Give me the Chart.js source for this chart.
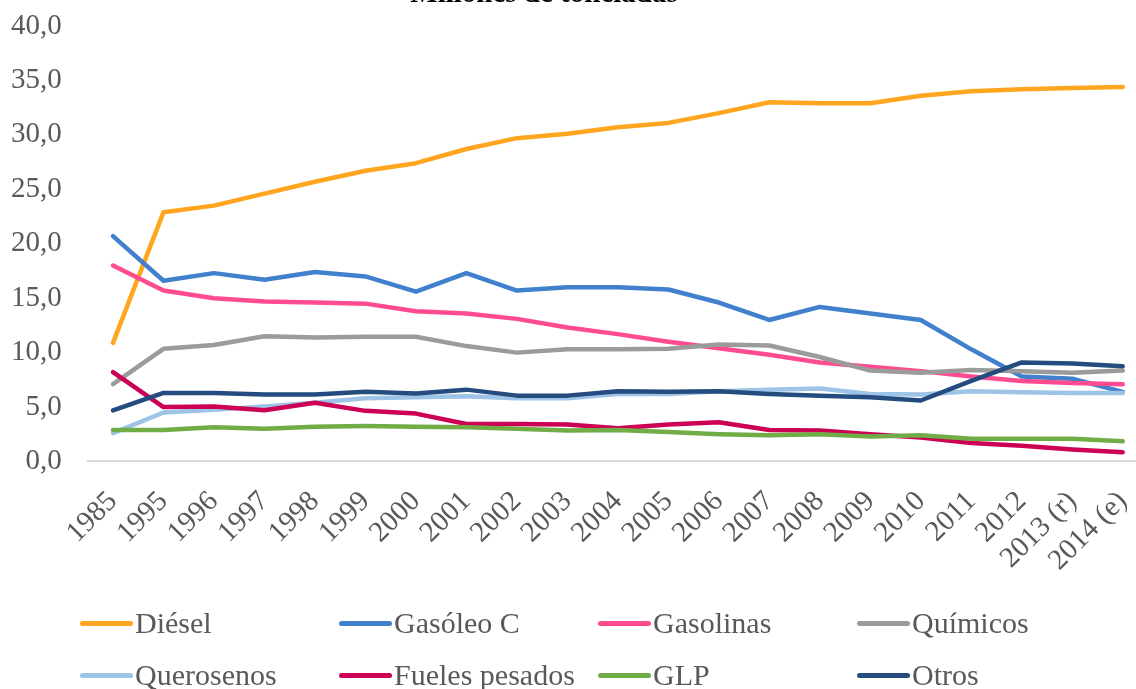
<!DOCTYPE html>
<html>
<head>
<meta charset="utf-8">
<script src="https://cdn.jsdelivr.net/npm/chart.js@4.4.1/dist/chart.umd.min.js"></script>
<style>
  html, body { margin: 0; padding: 0; background: #fff; overflow: hidden; }
  #wrap { position: absolute; left: 0; top: 0; width: 1148px; height: 689px; }
  #legend {
    position: absolute; left: 80px; top: 597px;
    display: grid; grid-template-columns: repeat(4, 259px);
    font: 30px "Liberation Serif", serif; color: #595959;
  }
  #legend .item { display: flex; align-items: center; height: 52px; white-space: nowrap; }
  #legend .swatch { width: 53px; height: 5px; border-radius: 3px; margin-right: 2px; }
</style>
</head>
<body>
<div id="wrap"><canvas id="myChart"></canvas></div>
<div id="legend"></div>
<script>
// categorias
var years = ['1985', '1995', '1996', '1997', '1998', '1999', '2000', '2001', '2002', '2003',
    '2004', '2005', '2006', '2007', '2008', '2009', '2010', '2011', '2012', '2013 (r)', '2014 (e)'];

// millones de toneladas
var diesel = [10.9, 22.9, 23.5, 24.6, 25.7, 26.7, 27.4, 28.7, 29.7, 30.1, 30.7, 31.1, 32.0, 33.0, 32.9, 32.9, 33.6, 34.0, 34.2, 34.3, 34.4];
var gasoleoC = [20.7, 16.6, 17.3, 16.7, 17.4, 17.0, 15.6, 17.3, 15.7, 16.0, 16.0, 15.8, 14.6, 13.0, 14.2, 13.6, 13.0, 10.3, 7.8, 7.6, 6.4];
var gasolinas = [18.0, 15.7, 15.0, 14.7, 14.6, 14.5, 13.8, 13.6, 13.1, 12.3, 11.7, 11.0, 10.4, 9.8, 9.1, 8.7, 8.3, 7.8, 7.4, 7.2, 7.1];
var quimicos = [7.1, 10.35, 10.7, 11.5, 11.4, 11.45, 11.45, 10.6, 10.0, 10.3, 10.3, 10.35, 10.75, 10.65, 9.6, 8.35, 8.15, 8.4, 8.3, 8.15, 8.35];
var querosenos = [2.6, 4.5, 4.75, 5.05, 5.4, 5.8, 5.9, 6.0, 5.8, 5.8, 6.2, 6.2, 6.45, 6.6, 6.7, 6.2, 6.15, 6.45, 6.35, 6.3, 6.3];
var fuelesPesados = [8.2, 5.0, 5.05, 4.7, 5.4, 4.65, 4.4, 3.45, 3.45, 3.4, 3.05, 3.4, 3.6, 2.9, 2.85, 2.5, 2.2, 1.7, 1.45, 1.1, 0.85];
var glp = [2.9, 2.9, 3.15, 3.0, 3.2, 3.25, 3.2, 3.15, 3.0, 2.85, 2.9, 2.7, 2.5, 2.4, 2.5, 2.3, 2.4, 2.1, 2.1, 2.1, 1.85];
var otros = [4.7, 6.3, 6.3, 6.15, 6.15, 6.4, 6.25, 6.6, 6.05, 6.05, 6.45, 6.4, 6.45, 6.2, 6.05, 5.9, 5.6, 7.4, 9.1, 9.0, 8.75];

var yTicks = { min: 0, max: 40, step: 5 };
var titleText = 'Millones de toneladas';

var series = [
    ['Diésel', diesel, '#ffa51f'],
    ['Gasóleo C', gasoleoC, '#4180cc'],
    ['Gasolinas', gasolinas, '#ff4b8f'],
    ['Químicos', quimicos, '#9b9b9b'],
    ['Querosenos', querosenos, '#9dc3e6'],
    ['Fueles pesados', fuelesPesados, '#cc0055'],
    ['GLP', glp, '#70ad47'],
    ['Otros', otros, '#244c7e']
];

var txtColor = '#595959';
var serif = '"Liberation Serif", "Times New Roman", serif';

// titulo cortado arriba, como en el original
var topTitle = {
    id: 'topTitle',
    afterDraw: function (chart) {
        var ctx = chart.ctx;
        ctx.save();
        ctx.font = 'bold 29px ' + serif;
        ctx.fillStyle = '#000';
        ctx.textAlign = 'center';
        ctx.textBaseline = 'alphabetic';
        ctx.fillText(titleText, 544, 2);
        ctx.restore();
    }
};

// leyenda en html, 4 columnas
var htmlLegend = {
    id: 'htmlLegend',
    afterUpdate: function (chart) {
        var box = document.getElementById('legend');
        box.innerHTML = '';
        chart.data.datasets.forEach(function (ds) {
            var item = document.createElement('div');
            item.className = 'item';
            var sw = document.createElement('span');
            sw.className = 'swatch';
            sw.style.background = ds.borderColor;
            var t = document.createElement('span');
            t.textContent = ds.label;
            item.appendChild(sw);
            item.appendChild(t);
            box.appendChild(item);
        });
    }
};

var myChart = new Chart(document.getElementById('myChart'), {
    type: 'line',
    data: {
        labels: years,
        datasets: series.map(function (s, i) {
            return {
                label: s[0],
                data: s[1],
                borderColor: s[2],
                backgroundColor: s[2],
                borderWidth: 4.5,
                borderCapStyle: 'round',
                borderJoinStyle: 'round',
                pointRadius: 0,
                tension: 0,
                order: series.length - i
            };
        })
    },
    options: {
        responsive: true,
        maintainAspectRatio: false,
        animation: false,
        layout: {
            padding: { left: 11, right: 0, top: 26, bottom: 88 }
        },
        plugins: {
            legend: { display: false },
            title: { display: false },
            tooltip: { enabled: false }
        },
        scales: {
            x: {
                offset: true,
                grid: { display: false, drawTicks: false },
                border: { display: true, color: '#d9d9d9', width: 2 },
                ticks: {
                    color: txtColor,
                    font: { family: serif, size: 29 },
                    maxRotation: 45,
                    minRotation: 45,
                    autoSkip: false,
                    padding: 23
                },
                afterFit: function (scale) {
                    scale.paddingLeft = 0;
                    scale.paddingRight = 0;
                }
            },
            y: {
                min: yTicks.min,
                max: yTicks.max,
                // marca invisible para separar las etiquetas del eje
                grid: { display: true, drawOnChartArea: false, drawTicks: true, tickLength: 26, tickColor: 'rgba(0,0,0,0)' },
                border: { display: false },
                ticks: {
                    stepSize: yTicks.step,
                    color: txtColor,
                    font: { family: serif, size: 29 },
                    padding: 0,
                    callback: function (v) { return v.toFixed(1).replace('.', ','); }
                }
            }
        }
    },
    plugins: [topTitle, htmlLegend]
});
</script>
</body>
</html>
